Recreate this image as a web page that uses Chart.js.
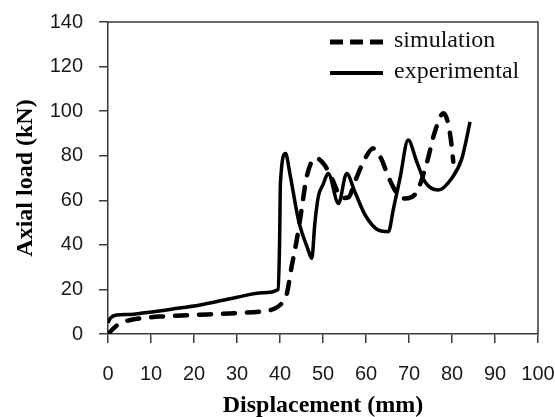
<!DOCTYPE html>
<html>
<head>
<meta charset="utf-8">
<script src="https://cdn.jsdelivr.net/npm/chart.js@4/dist/chart.umd.min.js"></script>
<style>
  html, body { margin: 0; padding: 0; background: #fff; }
  #wrap { width: 555px; height: 417px; }
</style>
</head>
<body>
<div id="wrap"><canvas id="loadChart" width="555" height="417"></canvas></div>
<script>
// values (displacement mm, load kN)
const simX = [0, 1, 2.8, 5, 8, 12, 20, 30, 36, 38.5, 40.4, 41.6, 42.7, 43.9, 45, 46.2, 48.3, 50.3, 52, 54.5, 56, 57.4, 59.8, 61.7, 63.7, 65.2, 67.5, 69.1, 71.8, 74.1, 76, 78, 79.1, 79.9, 80.3];
const simY = [0, 2, 4.9, 6.2, 7.1, 7.8, 8.5, 9.4, 10.2, 11.2, 13.8, 18.2, 30.2, 42.2, 55.6, 70.5, 79, 76, 70, 61, 61.5, 68.3, 78.8, 83.3, 78, 70.5, 62.3, 60.8, 63.8, 76.5, 90.7, 99, 94.5, 84.8, 77.3];

const expX = [0, 0.5, 2, 5, 8, 15, 21.4, 30, 36, 39.6, 39.9, 40.1, 41.3, 42.3, 44.3, 46.5, 47.4, 48.1, 48.9, 50, 51.2, 53.6, 55.5, 57.4, 59.8, 62.9, 65.2, 66.4, 67.9, 69.8, 71.8, 73.7, 76.8, 79.9, 82.3, 84.2];
const expY = [5, 7, 8.5, 8.8, 9.4, 11.2, 13, 16.5, 18.5, 20, 40.8, 67.7, 81, 72, 51.1, 38, 34, 49.6, 61.6, 67, 72, 58.6, 72, 63.8, 53.4, 46.6, 45.9, 56.4, 69.8, 87, 77.3, 68.3, 64.6, 69.8, 78.8, 95.2];

const seriesNames = ['simulation', 'experimental'];
const xTitle = 'Displacement (mm)';
const yTitle = 'Axial load (kN)';

const toPoints = (xs, ys) => xs.map((x, i) => ({ x: x, y: ys[i] }));

const axisColor = '#3a3a3a';

// top and right edges of the plot box
const framePlugin = {
  id: 'frame',
  afterDraw(chart) {
    const a = chart.chartArea;
    const ctx = chart.ctx;
    ctx.save();
    ctx.strokeStyle = axisColor;
    ctx.lineWidth = 1.5;
    ctx.beginPath();
    ctx.moveTo(a.left, a.top);
    ctx.lineTo(a.right, a.top);
    ctx.lineTo(a.right, a.bottom);
    ctx.stroke();
    ctx.restore();
  }
};

// legend inside the plot, top right, stacked
const legendPlugin = {
  id: 'insideLegend',
  afterDraw(chart) {
    const ctx = chart.ctx;
    const a = chart.chartArea;
    const x0 = a.right - 208;
    const rows = [a.top + 20, a.top + 51];
    ctx.save();
    chart.data.datasets.forEach((ds, i) => {
      const y = rows[i];
      ctx.strokeStyle = '#000';
      ctx.lineWidth = ds.borderWidth + 0.5;
      ctx.lineCap = 'butt';
      ctx.setLineDash(ds.borderDash && ds.borderDash.length ? [13, 7] : []);
      ctx.beginPath();
      ctx.moveTo(x0, y);
      ctx.lineTo(x0 + 53, y);
      ctx.stroke();
      ctx.setLineDash([]);
      ctx.fillStyle = '#111';
      ctx.font = '24px "Liberation Serif", "Times New Roman", serif';
      ctx.textBaseline = 'middle';
      ctx.fillText(ds.label, x0 + 64, y - 1);
    });
    ctx.restore();
  }
};

new Chart(document.getElementById('loadChart'), {
  type: 'scatter',
  data: {
    datasets: [
      {
        label: seriesNames[0],
        data: toPoints(simX, simY),
        showLine: true,
        borderColor: '#000',
        borderWidth: 4.5,
        borderDash: [12, 12],
        borderCapStyle: 'round',
        pointRadius: 0,
        cubicInterpolationMode: 'monotone'
      },
      {
        label: seriesNames[1],
        data: toPoints(expX, expY),
        showLine: true,
        borderColor: '#000',
        borderWidth: 3.5,
        pointRadius: 0,
        cubicInterpolationMode: 'monotone'
      }
    ]
  },
  options: {
    responsive: false,
    animation: false,
    layout: { padding: { top: 22, right: 0, left: 0, bottom: 0 } },
    plugins: {
      legend: { display: false },
      tooltip: { enabled: false }
    },
    scales: {
      x: {
        type: 'linear',
        min: 0,
        max: 100,
        afterFit(scale) {
          scale.height = 83;
          scale.paddingLeft = 0;
          scale.paddingRight = 17;
        },
        ticks: {
          stepSize: 10,
          padding: 19,
          color: '#1a1a1a',
          font: { family: '"Liberation Sans", Arial, sans-serif', size: 20 },
          maxRotation: 0
        },
        grid: {
          drawOnChartArea: false,
          drawTicks: true,
          tickLength: 9,
          color: axisColor,
          lineWidth: 1.5
        },
        border: { color: axisColor, width: 1.5 },
        title: {
          display: true,
          text: xTitle,
          color: '#000',
          font: { family: '"Liberation Serif", "Times New Roman", serif', size: 24, weight: 'bold', lineHeight: 1 },
          padding: { top: 0, bottom: -1 }
        }
      },
      y: {
        min: 0,
        max: 140,
        afterFit(scale) {
          scale.width = 108;
          scale.paddingTop = 0;
          scale.paddingBottom = 0;
        },
        ticks: {
          stepSize: 20,
          padding: 16,
          color: '#1a1a1a',
          font: { family: '"Liberation Sans", Arial, sans-serif', size: 20 }
        },
        grid: {
          drawOnChartArea: false,
          drawTicks: true,
          tickLength: 9,
          color: axisColor,
          lineWidth: 1.5
        },
        border: { color: axisColor, width: 1.5 },
        title: {
          display: true,
          text: yTitle,
          color: '#000',
          font: { family: '"Liberation Serif", "Times New Roman", serif', size: 24, weight: 'bold' },
          padding: { top: 11, bottom: 0 }
        }
      }
    }
  },
  plugins: [framePlugin, legendPlugin]
});
</script>
</body>
</html>
